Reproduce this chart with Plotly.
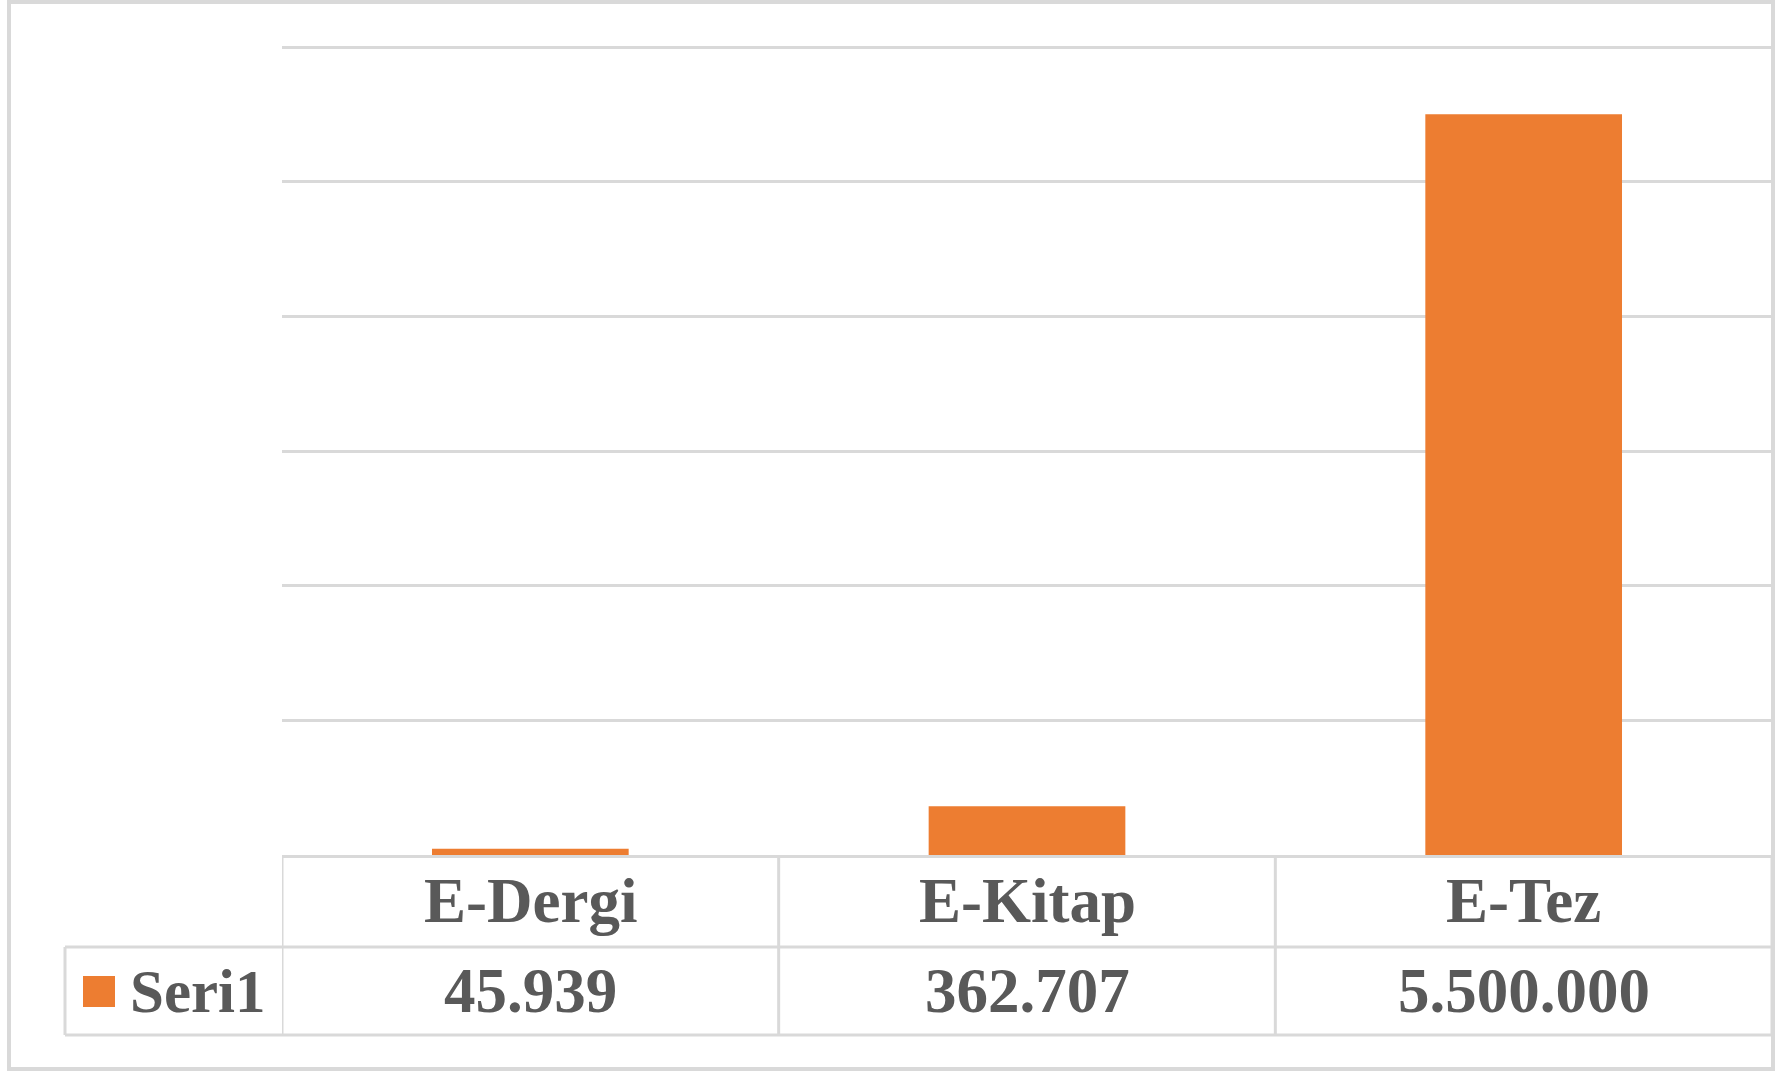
import plotly.graph_objects as go

# ---- data ----
categories = ["E-Dergi", "E-Kitap", "E-Tez"]
values = [45939, 362707, 5500000]
value_labels = ["45.939", "362.707", "5.500.000"]
series_name = "Seri1"
grid_ticks = [1000000, 2000000, 3000000, 4000000, 5000000, 6000000]

# ---- style / layout constants ----
W, H = 1783, 1071
L, R, T, B = 282, 11, 33, 216
PW = W - L - R
PH = H - T - B
BAR = "#ED7D31"
GRID = "#D9D9D9"
TXT = "#595959"
FONT = "Liberation Serif"
FS = 63
Y_TOP = 6000000 * PH / 808.0   # 6M gridline lands at pixel row 47


def px(x):
    return (x - L) / PW


def py(y):
    return (H - B - y) / PH


fig = go.Figure()
fig.add_trace(go.Bar(x=categories, y=values, name=series_name,
                     marker=dict(color=BAR, line=dict(width=0)),
                     hoverinfo="x+y"))

shapes = []
# outer chart border
shapes.append(dict(type="rect", xref="paper", yref="paper",
                   x0=px(9), x1=px(1773), y0=py(1069), y1=py(2),
                   line=dict(color=GRID, width=4), layer="below"))
# table horizontal lines
y_head = py(947)
y_bot = py(1035)
for yy in (y_head, y_bot):
    shapes.append(dict(type="line", xref="paper", yref="paper",
                       x0=px(65), x1=1, y0=yy, y1=yy,
                       line=dict(color=GRID, width=3)))
# legend cell left border
shapes.append(dict(type="line", xref="paper", yref="paper",
                   x0=px(65), x1=px(65), y0=y_head, y1=y_bot,
                   line=dict(color=GRID, width=3)))
# column dividers along the category axis
for i in range(len(categories) + 1):
    shapes.append(dict(type="line", xref="x", yref="paper",
                       x0=i - 0.5, x1=i - 0.5, y0=0, y1=y_bot,
                       line=dict(color=GRID, width=3)))
# legend key square
shapes.append(dict(type="rect", xref="paper", yref="paper",
                   x0=px(83), x1=px(115), y0=py(1007), y1=py(976),
                   fillcolor=BAR, line=dict(width=0)))

annotations = []
for c, lab in zip(categories, value_labels):
    annotations.append(dict(x=c, xref="x", y=(0 + y_head) / 2, yref="paper",
                            text=f"<b>{c}</b>", showarrow=False,
                            xanchor="center", yanchor="middle",
                            font=dict(family=FONT, size=FS, color=TXT)))
    annotations.append(dict(x=c, xref="x", y=(y_head + y_bot) / 2, yref="paper",
                            text=f"<b>{lab}</b>", showarrow=False,
                            xanchor="center", yanchor="middle",
                            font=dict(family=FONT, size=FS, color=TXT)))
annotations.append(dict(x=px(128), xref="paper", y=(y_head + y_bot) / 2, yref="paper",
                        text=f"<b>{series_name}</b>", showarrow=False,
                        xanchor="left", yanchor="middle",
                        font=dict(family=FONT, size=FS - 2, color=TXT)))

fig.update_layout(
    width=W, height=H, autosize=False,
    margin=dict(l=L, r=R, t=T, b=B, pad=0),
    paper_bgcolor="white", plot_bgcolor="white",
    showlegend=False, bargap=0.604,
    xaxis=dict(showticklabels=False, ticks="", showgrid=False,
               showline=True, linecolor=GRID, linewidth=3,
               range=[-0.5, 2.5], zeroline=False),
    yaxis=dict(range=[0, Y_TOP], tickvals=grid_ticks,
               showticklabels=False,
               ticks="", showgrid=True, gridcolor=GRID, gridwidth=3,
               zeroline=False, showline=False),
    shapes=shapes, annotations=annotations,
)

fig.write_html("out.html", config={"displayModeBar": False},
               post_script="document.body.style.margin='0';")
